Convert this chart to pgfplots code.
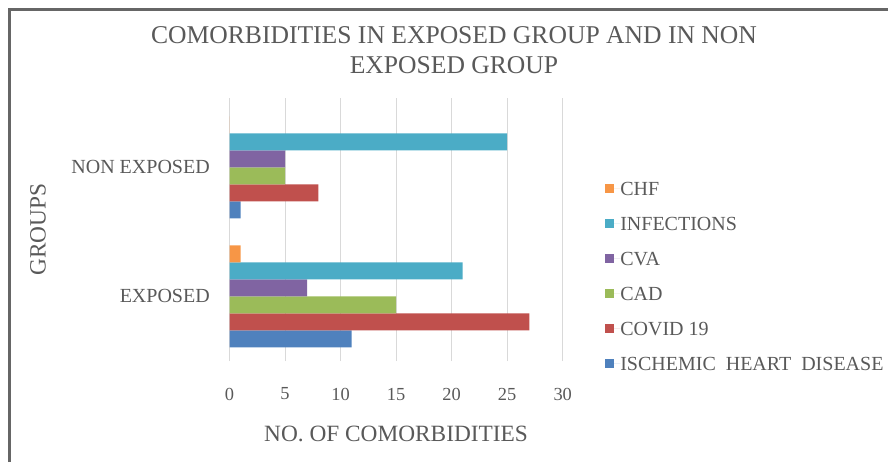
\documentclass[border=0pt]{standalone}
\usepackage{fontspec}
\setmainfont{Liberation Serif}
\usepackage{pgfplots}
\pgfplotsset{compat=1.18}
\definecolor{txt}{HTML}{595959}
\definecolor{grid}{HTML}{D9D9D9}
\definecolor{cIHD}{HTML}{4F81BD}
\definecolor{cCOV}{HTML}{C0504D}
\definecolor{cCAD}{HTML}{9BBB59}
\definecolor{cCVA}{HTML}{8064A2}
\definecolor{cINF}{HTML}{4BACC6}
\definecolor{cCHF}{HTML}{F79646}
\begin{document}
\begin{tikzpicture}
\useasboundingbox (0,0) rectangle (666pt,-346.5pt);
\draw[color=black!60, line width=2.2pt] (7.4pt,-346.5pt) -- (7.4pt,-7.3pt) -- (666pt,-7.3pt);
\node[text=txt, align=center, font=\fontsize{19.2pt}{22.5pt}\selectfont, anchor=center] at (340.5pt,-37.5pt)
  {COMORBIDITIES IN EXPOSED GROUP AND IN NON\\EXPOSED GROUP};
\begin{axis}[
  at={(172.125pt,-270.75pt)}, anchor=south west,
  scale only axis, width=249.9pt, height=197pt,
  xbar, bar width=12.75pt,
  xmin=0, xmax=30, ymin=-0.5, ymax=1.535,
  xtick={0,5,...,30}, ytick={0,1},
  yticklabels={EXPOSED,NON EXPOSED},
  major tick length=0pt,
  axis line style={draw=none},
  xmajorgrids, grid style={color=grid, line width=0.8pt},
  /pgf/number format/assume math mode=true,
  xticklabel style={font=\fontsize{13.8pt}{16pt}\selectfont, text=txt, inner sep=0pt, anchor=north, yshift=-20pt},
  yticklabel style={font=\fontsize{15pt}{18pt}\selectfont, text=txt, inner sep=0pt, anchor=east, xshift=-14.6pt},
  xlabel={NO. OF COMORBIDITIES},
  ylabel={GROUPS},
  xlabel style={font=\fontsize{17.5pt}{20pt}\selectfont, text=txt, at={(axis description cs:0.5,0)}, anchor=center, yshift=-54.4pt},
  ylabel style={font=\fontsize{17.5pt}{20pt}\selectfont, text=txt, at={(axis description cs:-0.5747,0.5)}, anchor=center},
  reverse legend,
  legend cell align=left,
  legend image code/.code={\fill[#1] (0pt,-3.4pt) rectangle (6.75pt,3.4pt); \path (0pt,0pt) -- (11.25pt,0pt);},
  legend style={at={(axis description cs:1.127,0.683)}, anchor=north west, draw=none, fill=none,
    inner sep=0pt, row sep=16.25pt, font=\fontsize{15pt}{18pt}\selectfont, text=txt,
    nodes={inner sep=0pt, text height=10pt, text depth=0pt}},
]
\addplot[draw=none, fill=cIHD, bar shift=-31.875pt] coordinates {(11,0) (1,1)};
\addplot[draw=none, fill=cCOV, bar shift=-19.125pt] coordinates {(27,0) (8,1)};
\addplot[draw=none, fill=cCAD, bar shift=-6.375pt] coordinates {(15,0) (5,1)};
\addplot[draw=none, fill=cCVA, bar shift=6.375pt] coordinates {(7,0) (5,1)};
\addplot[draw=none, fill=cINF, bar shift=19.125pt] coordinates {(21,0) (25,1)};
\addplot[draw=none, fill=cCHF, bar shift=31.875pt] coordinates {(1,0) (0,1)};
\legend{ISCHEMIC\hspace{0.5em}HEART\hspace{0.5em}DISEASE, COVID 19, CAD, CVA, INFECTIONS, CHF}
\end{axis}
\end{tikzpicture}
\end{document}
